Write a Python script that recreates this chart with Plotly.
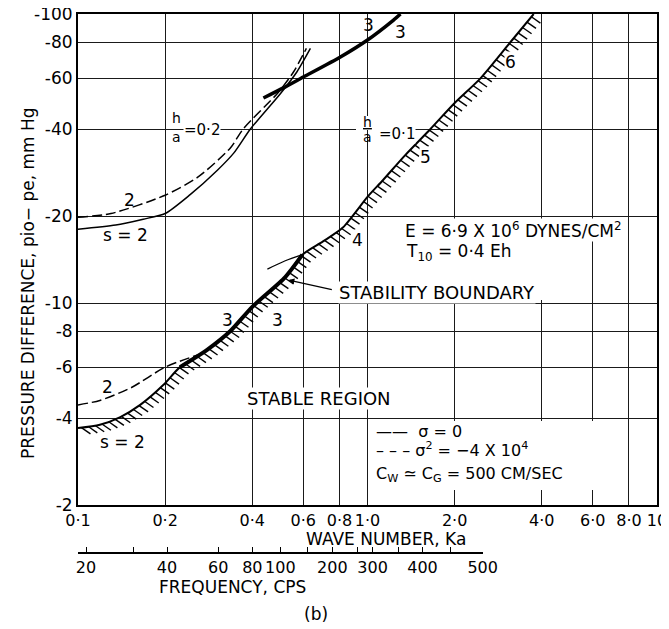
import numpy as np
import plotly.graph_objects as go

FONT = "DejaVu Sans"

# ---------------- data ----------------
ka_tickvals = [0.1, 0.2, 0.4, 0.6, 0.8, 1, 2, 4, 6, 8, 10]
ka_ticktext = ['0·1', '0·2', '0·4', '0·6', '0·8', '1·0', '2·0', '4·0', '6·0', '8·0', '10']
p_tickvals = [2, 4, 6, 8, 10, 20, 40, 60, 80, 100]
p_ticktext = ['-2', '-4', '-6', '-8', '-10', '-20', '-40', '-60', '-80', '-100']

freq_labels = ['20', '40', '60', '80', '100', '200', '300', '400', '500']
freq_ka = [0.1066, 0.203, 0.305, 0.400, 0.500, 0.756, 1.041, 1.549, 2.50]
freq_minor_ka = [0.1005, 0.155, 0.620, 0.923, 1.281, 1.937]

# h/a = 0.2
ha02_s2_solid_ka = [0.10, 0.135, 0.168, 0.20, 0.244, 0.303, 0.345, 0.394, 0.50, 0.57, 0.635]
ha02_s2_solid_p = [18.0, 18.6, 19.5, 20.4, 23.7, 28.8, 33.0, 40.0, 53.0, 63.0, 76.0]
ha02_s2_dash_ka = [0.10, 0.13, 0.20, 0.26, 0.336, 0.372, 0.49, 0.555, 0.615]
ha02_s2_dash_p = [19.8, 20.4, 23.6, 27.3, 34.4, 40.0, 53.3, 63.0, 76.0]
ha02_s3_ka = [0.437, 0.512, 0.60, 0.806, 1.0, 1.23, 1.30]
ha02_s3_p = [51.2, 55.5, 60.5, 71.0, 81.3, 95.3, 100.0]

# h/a = 0.1
ha01_s2_dash_ka = [0.10, 0.119, 0.153, 0.20, 0.258]
ha01_s2_dash_p = [4.44, 4.6, 5.1, 6.0, 6.6]
boundary_ka = [0.100, 0.119, 0.140, 0.164, 0.197, 0.225, 0.28, 0.336, 0.40, 0.52, 0.596,
               0.70, 0.82, 1.0, 1.13, 1.35, 1.65, 2.0, 2.46, 3.12, 3.75]
boundary_p = [3.69, 3.79, 4.03, 4.44, 5.2, 6.0, 6.9, 8.0, 9.7, 12.3, 14.7,
              16.3, 18.2, 23.3, 26.6, 32.5, 40.0, 49.2, 60.0, 80.0, 100.0]
ha01_s3_ka = [0.225, 0.28, 0.336, 0.40, 0.52, 0.596]
ha01_s3_p = [6.0, 6.9, 8.0, 9.7, 12.3, 14.7]
ha01_s4_arc_ka = [0.451, 0.52, 0.596]
ha01_s4_arc_p = [13.1, 14.0, 14.7]


# ---------------- hatching built from the boundary ----------------
def hatch(ka, p, step=0.024, length=0.038, ang_deg=-35.0, start=0.012):
    lx = np.log10(ka)
    ly = np.log10(p)
    seg = np.hypot(np.diff(lx), np.diff(ly))
    s = np.concatenate([[0.0], np.cumsum(seg)])
    ss = np.arange(start, s[-1], step)
    hx = np.interp(ss, s, lx)
    hy = np.interp(ss, s, ly)
    a = np.radians(ang_deg)
    dx, dy = length * np.cos(a), length * np.sin(a)
    xs, ys = [], []
    for x0, y0 in zip(hx, hy):
        xs += [10 ** x0, 10 ** (x0 + dx), None]
        ys += [10 ** y0, 10 ** (y0 + dy), None]
    return xs, ys


hx, hy = hatch(boundary_ka, boundary_p)

fig = go.Figure()


def line(x, y, width=1.5, dash=None, shape='spline'):
    fig.add_trace(go.Scatter(x=x, y=y, mode='lines', hoverinfo='skip', showlegend=False,
                             line=dict(color='black', width=width, dash=dash, shape=shape,
                                       smoothing=0.7 if shape == 'spline' else None)))


DASH = '10px,4px'
line(ha02_s2_solid_ka, ha02_s2_solid_p, 1.5)
line(ha02_s2_dash_ka, ha02_s2_dash_p, 1.5, DASH)
line(ha02_s3_ka, ha02_s3_p, 3.5)
line(ha01_s2_dash_ka, ha01_s2_dash_p, 1.5, DASH)
line(hx, hy, 1.4, shape='linear')
line(boundary_ka, boundary_p, 2.0)
line(ha01_s3_ka, ha01_s3_p, 4.0)
line(ha01_s4_arc_ka, ha01_s4_arc_p, 1.3)

# invisible trace so the frequency axis is drawn
fig.add_trace(go.Scatter(x=freq_ka, y=[0.5] * len(freq_ka), xaxis='x2', yaxis='y2', mode='markers',
                         marker=dict(opacity=0), hoverinfo='skip', showlegend=False))

# ---------------- layout (page coords; the page body adds an 8 px offset) ----------------
W, H = 669, 629
OFF = 8
plot_left, plot_right, plot_top, plot_bottom = 78, 657, 14, 505   # page pixels
ml = plot_left - OFF
mr = W - (plot_right - OFF)
mt = plot_top - OFF
mb = 10
pw = W - ml - mr
plot_h = H - mt - mb
paper_bottom_page = H - mb + OFF


def py2paper(y):
    return (paper_bottom_page - y) / plot_h


def px2paper(x):
    return (x - plot_left) / pw


ydom0 = py2paper(plot_bottom)
freq_pos = py2paper(552)
freq_dom = px2paper(483)

ax_common = dict(showline=True, linecolor='black', linewidth=2, mirror=True,
                 showgrid=True, gridcolor='#1a1a1a', gridwidth=1, zeroline=False,
                 ticks='', tickangle=0, ticklabeloverflow='allow')

fig.update_layout(
    width=W, height=H, margin=dict(l=ml, r=mr, t=mt, b=mb, autoexpand=False),
    paper_bgcolor='white', plot_bgcolor='white', showlegend=False,
    xaxis=dict(type='log', range=[-1, 1], tickvals=ka_tickvals, ticktext=ka_ticktext,
               domain=[0, 1], anchor='y', tickfont=dict(family=FONT, size=16, color='black'),
               **ax_common),
    yaxis=dict(type='log', range=[np.log10(2), 2], tickvals=p_tickvals, ticktext=p_ticktext,
               domain=[ydom0, 1], anchor='x', tickfont=dict(family=FONT, size=17, color='black'),
               **ax_common),
    xaxis2=dict(type='log', range=[-1, -1 + 2 * freq_dom], domain=[0, freq_dom], anchor='y2',
                tickvals=freq_ka + freq_minor_ka,
                ticktext=freq_labels + [''] * len(freq_minor_ka),
                showline=True, linecolor='black', linewidth=2, ticks='inside', ticklen=5,
                tickwidth=1.3, tickcolor='black', showgrid=False, zeroline=False, tickangle=0,
                tickfont=dict(family=FONT, size=16, color='black')),
    yaxis2=dict(domain=[freq_pos, freq_pos + 0.01], anchor='x2', visible=False, range=[0, 1]),
)

# white boxes behind text blocks (grid interrupted in the original)
shapes = []
for (x0, y0, x1, y1) in [(369, 421, 598, 490), (400, 220, 560, 300), (356, 116, 380, 130)]:
    shapes.append(dict(type='rect', xref='paper', yref='paper', layer='above',
                       fillcolor='white', line=dict(width=0),
                       x0=px2paper(x0), x1=px2paper(x1), y0=py2paper(y1), y1=py2paper(y0)))
fig.update_layout(shapes=shapes)

L = np.log10
anns = []


def note(text, ka, p, size=17, xanchor='center', bg=None, **kw):
    d = dict(text=text, x=L(ka), y=L(p), xref='x', yref='y', showarrow=False,
             font=dict(family=FONT, size=size, color='black'), xanchor=xanchor, yanchor='middle')
    if bg:
        d.update(bgcolor=bg, borderpad=0)
    d.update(kw)
    anns.append(d)


# mode labels
note('3', 1.008, 91.6)
note('3', 1.30, 86.7)
note('2', 0.151, 22.7)
note('s = 2', 0.1455, 17.2)
note('=0·2', 0.268, 39.6, size=15, bg='white')
note('h', 0.2195, 43.5, size=14)
note('a', 0.2195, 37.6, size=14)
note('=0·1', 1.26, 38.5, size=15, bg='white')
note('<u>h</u>', 1.0, 42.2, size=14)
note('a', 1.0, 37.4, size=14)
note('4', 0.923, 16.5, bg='white')
note('5', 1.588, 32.0, bg='white')
note('6', 3.124, 68.2, bg='white')
note('3', 0.328, 8.73)
note('3', 0.488, 8.73)
note('2', 0.126, 5.12)
note('s = 2', 0.142, 3.30)
note('E = 6·9 X 10<sup>6</sup> DYNES/CM<sup>2</sup>', 1.332, 17.9, xanchor='left', bg='white')
note('T<sub>10</sub> = 0·4 Eh', 1.332, 14.9, xanchor='left')
note('STABILITY BOUNDARY', 0.788, 10.9, size=18, xanchor='left', bg='white')
note('STABLE REGION', 0.682, 4.69, size=18, bg='white')
note('——  σ = 0', 1.049, 3.60, xanchor='left', size=16)
note('– – – σ<sup>2</sup> = −4 X 10<sup>4</sup>', 1.049, 3.12, xanchor='left', size=16)
note('C<sub>W</sub> ≃ C<sub>G</sub> = 500 CM/SEC', 1.049, 2.55, xanchor='left', size=16)

# arrow to stability boundary
anns.append(dict(text='', x=L(0.533), y=L(12.0), xref='x', yref='y', axref='x', ayref='y',
                 ax=L(0.762), ay=L(11.1), showarrow=True, arrowhead=2, arrowsize=1,
                 arrowwidth=1.2, arrowcolor='black'))


def paper_note(text, px, py, size=17, angle=0):
    anns.append(dict(text=text, x=px2paper(px), y=py2paper(py), xref='paper', yref='paper',
                     showarrow=False, textangle=angle, xanchor='center', yanchor='middle',
                     font=dict(family=FONT, size=size, color='black')))


paper_note('WAVE NUMBER, Ka', 386, 539, size=17)
paper_note('FREQUENCY, CPS', 232, 587, size=17)
paper_note('(b)', 316, 614)
paper_note('PRESSURE DIFFERENCE, pio− pe, mm Hg', 28, 283, size=17, angle=-90)

fig.update_layout(annotations=anns)
fig.write_html("out.html")
